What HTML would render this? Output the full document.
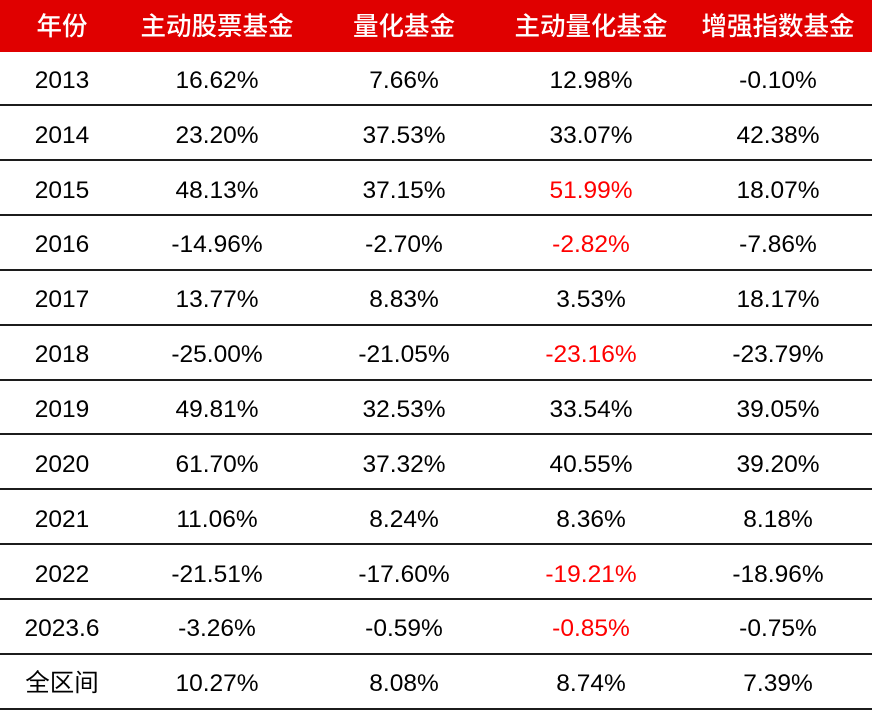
<!DOCTYPE html>
<html><head><meta charset="utf-8">
<style>
html,body{margin:0;padding:0;background:#fff;}
#c{position:relative;width:872px;height:716px;overflow:hidden;background:#fff;font-family:"Liberation Sans","Noto Sans CJK SC",sans-serif;}
.hdr{position:absolute;left:0;top:0;width:872px;height:52px;background:#E00000;}
.t{position:absolute;width:200px;text-align:center;white-space:nowrap;line-height:30px;height:30px;}
.h{color:#fff;font-size:25.5px;font-weight:500;font-family:"Liberation Sans","Noto Sans CJK SC",sans-serif;}
.d{color:#000;font-size:24.5px;}
.r{color:#FF0000;}
.ln{position:absolute;left:0;width:872px;height:2px;background:#1c1c1c;}
</style></head>
<body><div id="c">
<div class="hdr"></div>
<div class="t h" style="left:-38px;top:12px">年份</div>
<div class="t h" style="left:117px;top:12px">主动股票基金</div>
<div class="t h" style="left:304px;top:12px">量化基金</div>
<div class="t h" style="left:491px;top:12px">主动量化基金</div>
<div class="t h" style="left:678px;top:12px">增强指数基金</div>
<div id="rows"></div>
</div>
<script>
var data=[
["2013","16.62%","7.66%","12.98%","-0.10%",0],
["2014","23.20%","37.53%","33.07%","42.38%",0],
["2015","48.13%","37.15%","51.99%","18.07%",1],
["2016","-14.96%","-2.70%","-2.82%","-7.86%",1],
["2017","13.77%","8.83%","3.53%","18.17%",0],
["2018","-25.00%","-21.05%","-23.16%","-23.79%",1],
["2019","49.81%","32.53%","33.54%","39.05%",0],
["2020","61.70%","37.32%","40.55%","39.20%",0],
["2021","11.06%","8.24%","8.36%","8.18%",0],
["2022","-21.51%","-17.60%","-19.21%","-18.96%",1],
["2023.6","-3.26%","-0.59%","-0.85%","-0.75%",1],
["全区间","10.27%","8.08%","8.74%","7.39%",0]
];
var cx=[62,217,404,591,778];
var html="";
for(var i=0;i<data.length;i++){
  var lineTop=104.3+54.85*i;
  var prevBottom = i==0?52:(104.3+54.85*(i-1)+2);
  var center=(prevBottom+lineTop)/2+3;
  for(var j=0;j<5;j++){
    var cls="t d"+((j==3&&data[i][5])?" r":"");
    html+='<div class="'+cls+'" style="left:'+(cx[j]-100)+'px;top:'+(center-15).toFixed(1)+'px">'+data[i][j]+'</div>';
  }
  html+='<div class="ln" style="top:'+lineTop.toFixed(1)+'px"></div>';
}
document.getElementById("rows").outerHTML=html;
</script>
</body></html>
